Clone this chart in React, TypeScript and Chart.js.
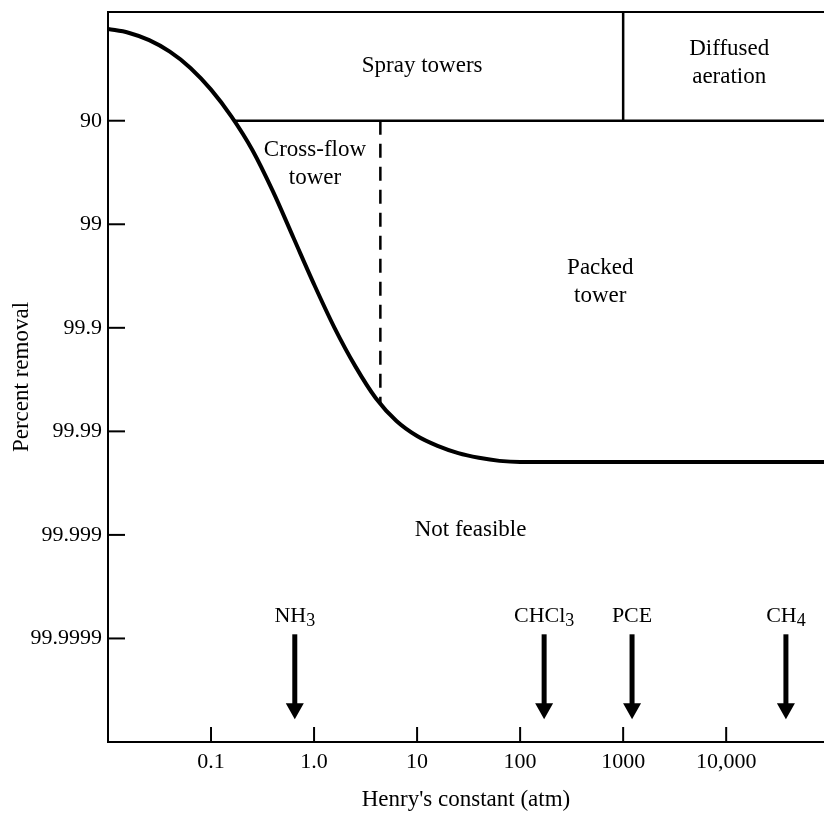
import React, { useEffect, useRef } from 'react';
import { Chart, registerables } from 'chart.js';

Chart.register(...registerables);

// ---- axis ticks ----
const xTickValues = [0.1, 1, 10, 100, 1000, 10000];
const xTickLabels = ['0.1', '1.0', '10', '100', '1000', '10,000'];
// y value = number of nines in percent removal (90 -> 1, 99 -> 2, ...)
const yTickValues = [1, 2, 3, 4, 5, 6];
const yTickLabels = ['90', '99', '99.9', '99.99', '99.999', '99.9999'];

// ---- feasibility curve (Henry's constant, atm) vs nines of removal ----
const curveHenry = [0.01, 0.0158, 0.0251, 0.0398, 0.0631, 0.1, 0.158, 0.251, 0.398, 0.631, 1.0, 1.58, 2.51, 3.98, 6.31, 10, 15.8, 25.1, 39.8, 63.1, 100, 89000];
const curveNines = [0.114, 0.15, 0.222, 0.333, 0.49, 0.7, 0.96, 1.28, 1.68, 2.13, 2.58, 3.0, 3.37, 3.68, 3.9, 4.045, 4.14, 4.21, 4.255, 4.285, 4.296, 4.296];

// ---- region boundaries ----
const sprayBoundaryHenry = [0.168, 89000];
const sprayBoundaryNines = [1, 1];
const diffusedBoundaryHenry = [1000, 1000];
const diffusedBoundaryNines = [-0.05, 1];
const crossflowBoundaryHenry = [4.4, 4.4];
const crossflowBoundaryNines = [1, 3.73];

// ---- region labels ----
const regionLabels = [['Spray towers'], ['Diffused', 'aeration'], ['Cross-flow', 'tower'], ['Packed', 'tower'], ['Not feasible']];
const regionHenry = [11.2, 10700, 1.02, 600, 33];
const regionNines = [0.47, 0.44, 1.42, 2.56, 4.95];

// ---- compounds ----
const compounds = ['NH₃', 'CHCl₃', 'PCE', 'CH₄'];
const compoundHenry = [0.65, 171, 1220, 38000];
const compoundLabelNines = 5.79;
const arrowTopNines = 5.96;
const arrowTipNines = 6.78;

const FONT = '"Liberation Serif", "Times New Roman", serif';
const SUB = '₀₁₂₃₄₅₆₇₈₉';

function drawRich(ctx: CanvasRenderingContext2D, text: string, cx: number, cy: number, size: number) {
  const segs: { t: string; sub: boolean; w?: number }[] = [];
  for (const ch of text) {
    const k = SUB.indexOf(ch);
    const sub = k >= 0;
    const c = sub ? String(k) : ch;
    const last = segs[segs.length - 1];
    if (last && last.sub === sub) last.t += c;
    else segs.push({ t: c, sub });
  }
  const fontFor = (s: boolean) => `${s ? Math.round(size * 0.82) : size}px ${FONT}`;
  let total = 0;
  segs.forEach((s) => {
    ctx.font = fontFor(s.sub);
    s.w = ctx.measureText(s.t).width;
    total += s.w;
  });
  let x = cx - total / 2;
  ctx.textAlign = 'left';
  ctx.textBaseline = 'middle';
  segs.forEach((s) => {
    ctx.font = fontFor(s.sub);
    ctx.fillText(s.t, x, cy + (s.sub ? 5 : 0));
    x += s.w || 0;
  });
}

const overlayPlugin = {
  id: 'overlay',
  afterDatasetsDraw(chart: any) {
    const { ctx, chartArea: a, scales } = chart;
    const xs = scales.x;
    const ys = scales.y;
    ctx.save();
    ctx.strokeStyle = '#000';
    ctx.fillStyle = '#000';
    // top frame
    ctx.lineWidth = 2;
    ctx.beginPath();
    ctx.moveTo(a.left, a.top);
    ctx.lineTo(a.right, a.top);
    ctx.stroke();
    // inward tick marks
    xTickValues.forEach((v) => {
      const px = xs.getPixelForValue(v);
      ctx.beginPath();
      ctx.moveTo(px, a.bottom);
      ctx.lineTo(px, a.bottom - 15);
      ctx.stroke();
    });
    yTickValues.forEach((v) => {
      const py = ys.getPixelForValue(v);
      ctx.beginPath();
      ctx.moveTo(a.left, py);
      ctx.lineTo(a.left + 17, py);
      ctx.stroke();
    });
    // region labels
    ctx.font = `23px ${FONT}`;
    ctx.textAlign = 'center';
    ctx.textBaseline = 'middle';
    regionLabels.forEach((lines, i) => {
      const cx = xs.getPixelForValue(regionHenry[i]);
      const cy = ys.getPixelForValue(regionNines[i]);
      const lh = 28;
      lines.forEach((t, j) => {
        ctx.fillText(t, cx, cy + (j - (lines.length - 1) / 2) * lh);
      });
    });
    // compound arrows
    compounds.forEach((name, i) => {
      const px = xs.getPixelForValue(compoundHenry[i]);
      const top = ys.getPixelForValue(arrowTopNines);
      const tip = ys.getPixelForValue(arrowTipNines);
      ctx.lineWidth = 5;
      ctx.beginPath();
      ctx.moveTo(px, top);
      ctx.lineTo(px, tip - 12);
      ctx.stroke();
      ctx.beginPath();
      ctx.moveTo(px - 9, tip - 16);
      ctx.lineTo(px + 9, tip - 16);
      ctx.lineTo(px, tip);
      ctx.closePath();
      ctx.fill();
      drawRich(ctx, name, px, ys.getPixelForValue(compoundLabelNines), 22);
    });
    ctx.restore();
  },
};

export default function App() {
  const ref = useRef<HTMLCanvasElement | null>(null);

  useEffect(() => {
    document.body.style.margin = '0';
    const canvas = ref.current;
    if (!canvas) return;
    const pts = (xs: number[], ys: number[]) => xs.map((x, i) => ({ x, y: ys[i] }));
    const chart = new Chart(canvas, {
      type: 'line',
      data: {
        datasets: [
          {
            label: 'Feasibility limit',
            data: pts(curveHenry, curveNines),
            borderColor: '#000',
            borderWidth: 4,
            pointRadius: 0,
            cubicInterpolationMode: 'monotone',
            fill: false,
          },
          {
            label: 'Spray tower boundary',
            data: pts(sprayBoundaryHenry, sprayBoundaryNines),
            borderColor: '#000',
            borderWidth: 2.5,
            pointRadius: 0,
            fill: false,
          },
          {
            label: 'Diffused aeration boundary',
            data: pts(diffusedBoundaryHenry, diffusedBoundaryNines),
            borderColor: '#000',
            borderWidth: 2.5,
            pointRadius: 0,
            fill: false,
          },
          {
            label: 'Cross-flow boundary',
            data: pts(crossflowBoundaryHenry, crossflowBoundaryNines),
            borderColor: '#000',
            borderWidth: 2.5,
            borderDash: [14, 9],
            pointRadius: 0,
            fill: false,
          },
        ],
      },
      options: {
        responsive: false,
        animation: false,
        layout: { padding: { top: 12, right: 0, left: 0, bottom: 0 } },
        plugins: { legend: { display: false }, tooltip: { enabled: false } },
        scales: {
          x: {
            type: 'logarithmic',
            min: 0.01,
            max: 89000,
            afterBuildTicks: (s: any) => {
              s.ticks = xTickValues.map((v) => ({ value: v }));
            },
            afterFit: (s: any) => {
              s.height = 76;
              s.paddingLeft = 0;
              s.paddingRight = 0;
            },
            ticks: {
              autoSkip: false,
              maxRotation: 0,
              padding: 7,
              color: '#000',
              font: { family: FONT, size: 22 },
              callback: (_v: any, i: number) => xTickLabels[i],
            },
            grid: { display: false, drawTicks: false },
            border: { display: true, color: '#000', width: 2 },
            title: {
              display: true,
              text: "Henry's constant (atm)",
              color: '#000',
              font: { family: FONT, size: 23 },
              padding: { top: 4, bottom: 4 },
            },
          },
          y: {
            type: 'linear',
            reverse: true,
            min: -0.05,
            max: 7,
            afterBuildTicks: (s: any) => {
              s.ticks = yTickValues.map((v) => ({ value: v }));
            },
            afterFit: (s: any) => {
              s.width = 108;
              s.paddingTop = 0;
              s.paddingBottom = 0;
            },
            ticks: {
              padding: 6,
              color: '#000',
              font: { family: FONT, size: 22 },
              callback: (_v: any, i: number) => yTickLabels[i],
            },
            grid: { display: false, drawTicks: false },
            border: { display: true, color: '#000', width: 2 },
            title: {
              display: true,
              text: 'Percent removal',
              color: '#000',
              font: { family: FONT, size: 23 },
              padding: { top: 8, bottom: 4 },
            },
          },
        },
      },
      plugins: [overlayPlugin],
    } as any);
    return () => chart.destroy();
  }, []);

  return <canvas ref={ref} width={824} height={818} style={{ display: 'block' }} />;
}
